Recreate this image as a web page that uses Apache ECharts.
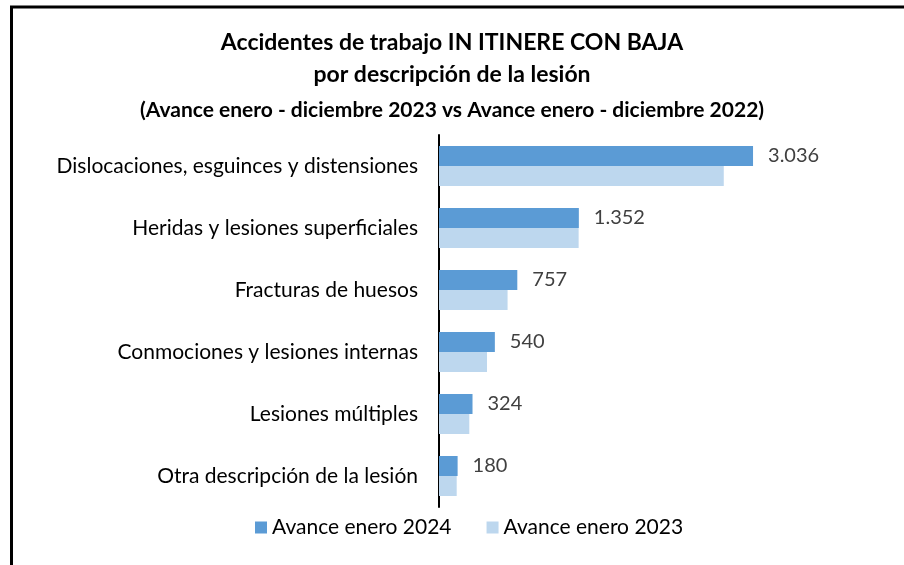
<!DOCTYPE html>
<html>
<head>
<meta charset="utf-8">
<script src="https://cdn.jsdelivr.net/npm/echarts@6/dist/echarts.min.js"></script>
<style>
  html, body { margin: 0; padding: 0; background: #fff; }
  #chart { width: 904px; height: 565px; }
</style>
</head>
<body>
<div id="chart"></div>
<script>
// datos
const categorias = [
    'Dislocaciones, esguinces y distensiones',
    'Heridas y lesiones superficiales',
    'Fracturas de huesos',
    'Conmociones y lesiones internas',
    'Lesiones múltiples',
    'Otra descripción de la lesión'
];
const avance2024 = [3036, 1352, 757, 540, 324, 180];
const avance2023 = [2753, 1350, 663, 464, 293, 171];
const series_nombres = ['Avance enero 2024', 'Avance enero 2023'];

const fuente = 'Lato, "Noto Sans", sans-serif';

function miles(v) {
    return String(v).replace(/\B(?=(\d{3})+(?!\d))/g, '.');
}

const myChart = echarts.init(document.getElementById('chart'));

const option = {
    animation: false,
    backgroundColor: '#fff',
    title: {
        text: 'Accidentes de trabajo IN ITINERE CON BAJA\npor descripción de la lesión',
        subtext: '(Avance enero - diciembre 2023 vs Avance enero - diciembre 2022)',
        left: 'center',
        top: 22,
        itemGap: 7,
        textStyle: {
            fontFamily: fuente,
            fontSize: 23,
            fontWeight: 'bold',
            color: '#000',
            lineHeight: 32
        },
        subtextStyle: {
            fontFamily: fuente,
            fontSize: 21,
            fontWeight: 'bold',
            color: '#000',
            lineHeight: 24
        }
    },
    legend: {
        data: series_nombres,
        bottom: 22,
        left: 250,
        itemWidth: 12,
        itemHeight: 12,
        itemGap: 35,
        icon: 'rect',
        textStyle: {
            fontFamily: fuente,
            fontSize: 21,
            color: '#000'
        }
    },
    grid: {
        left: 439,
        top: 135,
        bottom: 58,
        width: 331
    },
    xAxis: {
        type: 'value',
        min: 0,
        max: 3200,
        show: false,
        splitLine: { show: false }
    },
    yAxis: {
        type: 'category',
        data: categorias,
        inverse: true,
        axisLine: { lineStyle: { color: '#000', width: 2 } },
        axisTick: { show: false },
        axisLabel: {
            fontFamily: fuente,
            fontSize: 21,
            color: '#000',
            margin: 21
        }
    },
    series: [
        {
            name: series_nombres[0],
            type: 'bar',
            data: avance2024,
            barWidth: 20,
            barGap: '0%',
            itemStyle: { color: '#5B9BD5' },
            label: {
                show: true,
                position: 'right',
                distance: 15,
                fontFamily: fuente,
                fontSize: 20,
                color: '#404040',
                formatter: function (p) {
                    return miles(p.value);
                }
            }
        },
        {
            name: series_nombres[1],
            type: 'bar',
            data: avance2023,
            barWidth: 20,
            itemStyle: { color: '#BDD7EE' }
        }
    ],
    graphic: [
        {
            type: 'line',
            shape: { x1: 10, y1: 7, x2: 904, y2: 7 },
            style: { stroke: '#000', lineWidth: 3 }
        },
        {
            type: 'line',
            shape: { x1: 11.5, y1: 6, x2: 11.5, y2: 565 },
            style: { stroke: '#000', lineWidth: 3 }
        }
    ]
};

myChart.setOption(option);

window.addEventListener('resize', function () {
    myChart.resize();
});
</script>
</body>
</html>
